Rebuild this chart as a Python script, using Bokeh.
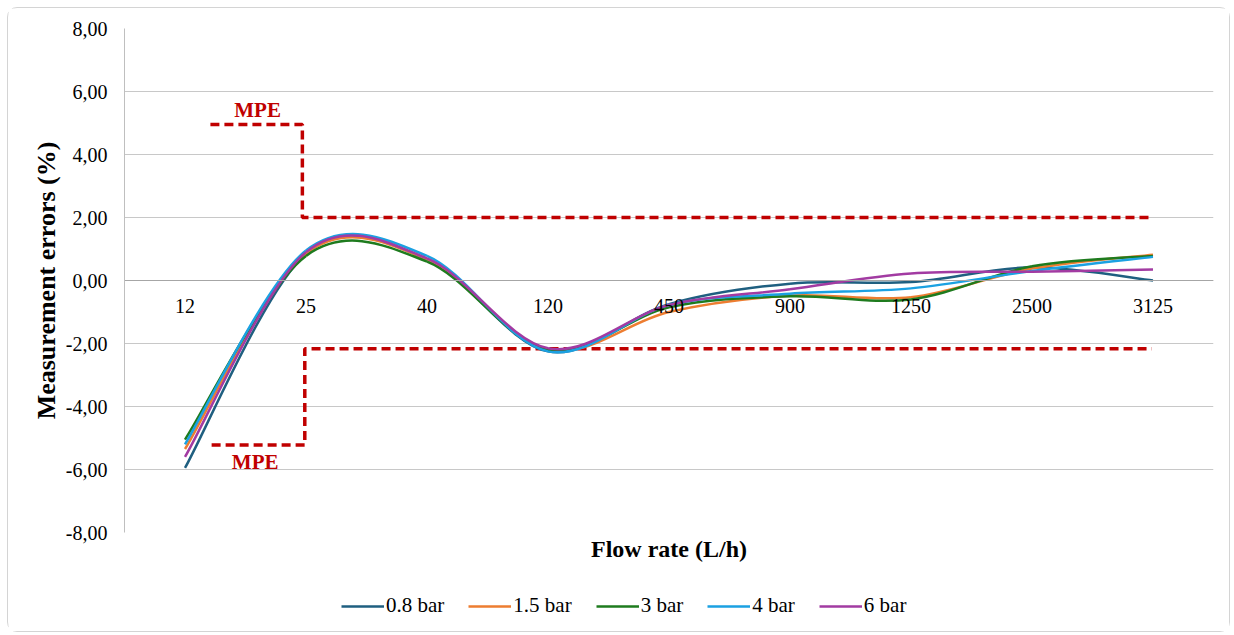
from bokeh.plotting import figure
from bokeh.layouts import column
from bokeh.models import (Range1d, FixedTicker, CustomJSTickFormatter, Legend,
                          LegendItem, Title, Label)
from bokeh.embed import file_html
from bokeh.resources import INLINE

# ---------------- data ----------------
flow_rates = ["12", "25", "40", "120", "450", "900", "1250", "2500", "3125"]

err_0_8bar = [-5.95, 0.85, 0.68, -2.25, -0.75, -0.10, -0.05, 0.42, 0.00]
err_1_5bar = [-5.35, 0.85, 0.68, -2.20, -1.00, -0.48, -0.53, 0.38, 0.82]
err_3bar = [-5.05, 0.78, 0.60, -2.20, -0.85, -0.50, -0.60, 0.45, 0.78]
err_4bar = [-5.20, 0.95, 0.78, -2.25, -0.78, -0.42, -0.25, 0.30, 0.75]
err_6bar = [-5.60, 0.90, 0.70, -2.15, -0.78, -0.28, 0.22, 0.28, 0.35]

series_names = ["0.8 bar", "1.5 bar", "3 bar", "4 bar", "6 bar"]
series_values = [err_0_8bar, err_1_5bar, err_3bar, err_4bar, err_6bar]
series_colors = ["#1f5f80", "#ed7d31", "#1e7b1e", "#1ba1e2", "#a23ba2"]

# MPE limits (%), and category-index positions where the limit lines start / step / end
mpe_upper = [4.95, 2.0]
mpe_lower = [-5.22, -2.17]
mpe_upper_x = [0.21, 0.97, 7.98]
mpe_lower_x = [0.22, 0.99, 7.99]

y_ticks = [-8, -6, -4, -2, 0, 2, 4, 6, 8]

FONT = "Liberation Serif"
TOTAL_W = 1221

# ---------------- main figure ----------------
p = figure(frame_width=1089, frame_height=504, x_range=Range1d(-0.5, 8.5), y_range=Range1d(-8, 8),
           output_backend="svg", toolbar_location=None,
           min_border_left=116, min_border_right=16, min_border_top=20, min_border_bottom=45)
p.outline_line_color = None
p.background_fill_color = "white"
p.border_fill_color = "white"

# y axis
p.yaxis.ticker = FixedTicker(ticks=y_ticks)
p.yaxis.formatter = CustomJSTickFormatter(code="return tick.toFixed(2).replace('.', ',');")
p.yaxis.axis_label = "Measurement errors (%)"
p.yaxis.axis_label_text_font = FONT
p.yaxis.axis_label_text_font_size = "26px"
p.yaxis.axis_label_text_font_style = "bold"
p.yaxis.axis_label_text_color = "#000000"
p.yaxis.major_label_text_font = FONT
p.yaxis.major_label_text_font_size = "20px"
p.yaxis.major_label_text_color = "#000000"
p.yaxis.axis_line_color = "#bfbfbf"
p.yaxis.major_tick_line_color = None
p.yaxis.minor_tick_line_color = None
p.yaxis.major_label_standoff = 11
p.yaxis.axis_label_standoff = 2

# x axis crossing at y = 0
p.xaxis.fixed_location = 0
p.xaxis.ticker = FixedTicker(ticks=list(range(len(flow_rates))))
p.xaxis.major_label_overrides = {i: s for i, s in enumerate(flow_rates)}
p.xaxis.major_label_text_font = FONT
p.xaxis.major_label_text_font_size = "20px"
p.xaxis.major_label_text_color = "#000000"
p.xaxis.axis_line_color = "#a6a6a6"
p.xaxis.major_tick_line_color = None
p.xaxis.minor_tick_line_color = None
p.xaxis.major_label_standoff = 12

p.xgrid.visible = False
p.ygrid.ticker = FixedTicker(ticks=y_ticks)
p.ygrid.grid_line_color = "#c8c8c8"
p.ygrid.grid_line_width = 1

# ---------------- MPE limit lines ----------------
p.line(x=[mpe_upper_x[0], mpe_upper_x[1], mpe_upper_x[1], mpe_upper_x[2]],
       y=[mpe_upper[0], mpe_upper[0], mpe_upper[1], mpe_upper[1]],
       line_color="#c00000", line_width=3.5, line_dash="9 5")
p.line(x=[mpe_lower_x[0], mpe_lower_x[1], mpe_lower_x[1], mpe_lower_x[2]],
       y=[mpe_lower[0], mpe_lower[0], mpe_lower[1], mpe_lower[1]],
       line_color="#c00000", line_width=3.5, line_dash="9 5")

p.add_layout(Label(x=0.60, y=mpe_upper[0], y_offset=3, text="MPE", text_align="center",
                   text_baseline="bottom", text_font=FONT, text_font_size="21px",
                   text_font_style="bold", text_color="#c00000"))
p.add_layout(Label(x=0.58, y=mpe_lower[0], y_offset=-5, text="MPE", text_align="center",
                   text_baseline="top", text_font=FONT, text_font_size="21px",
                   text_font_style="bold", text_color="#c00000"))

# ---------------- smoothed series (cubic Bezier through the data points) ----------------
def bezier_segments(vals):
    n = len(vals)
    xs = list(range(n))
    def tangent(i):
        a = max(i - 1, 0)
        b = min(i + 1, n - 1)
        return ((xs[b] - xs[a]) / 2.0, (vals[b] - vals[a]) / 2.0)
    seg = dict(x0=[], y0=[], x1=[], y1=[], cx0=[], cy0=[], cx1=[], cy1=[])
    for i in range(n - 1):
        t0 = tangent(i)
        t1 = tangent(i + 1)
        seg["x0"].append(xs[i]); seg["y0"].append(vals[i])
        seg["x1"].append(xs[i + 1]); seg["y1"].append(vals[i + 1])
        seg["cx0"].append(xs[i] + t0[0] / 3.0); seg["cy0"].append(vals[i] + t0[1] / 3.0)
        seg["cx1"].append(xs[i + 1] - t1[0] / 3.0); seg["cy1"].append(vals[i + 1] - t1[1] / 3.0)
    return seg

for name, vals, col in zip(series_names, series_values, series_colors):
    s = bezier_segments(vals)
    p.bezier(x0=s["x0"], y0=s["y0"], x1=s["x1"], y1=s["y1"],
             cx0=s["cx0"], cy0=s["cy0"], cx1=s["cx1"], cy1=s["cy1"],
             line_color=col, line_width=2.5)

p.add_layout(Title(text="Flow rate (L/h)", align="center", text_font=FONT,
                   text_font_size="24px", text_font_style="bold", text_color="#000000",
                   standoff=3), "below")

# ---------------- legend strip (separate figure under the chart) ----------------
# The strip's view window lies away from the data, so only its legend is visible.
lg = figure(width=TOTAL_W, height=54, x_range=Range1d(100, 101), y_range=Range1d(100, 101),
            output_backend="svg", toolbar_location=None, min_border=0,
            x_axis_location=None, y_axis_location=None)
lg.grid.visible = False
lg.outline_line_color = None
lg.border_fill_color = "white"

items = []
for name, vals, col in zip(series_names, series_values, series_colors):
    r = lg.line(x=list(range(len(vals))), y=vals, line_color=col, line_width=2.5)
    items.append(LegendItem(label=name, renderers=[r]))

legend = Legend(items=items, orientation="horizontal", location=(217, 13),
                border_line_color=None, background_fill_alpha=0,
                label_text_font=FONT, label_text_font_size="21px",
                label_text_color="#000000", glyph_width=43, label_standoff=2,
                spacing=24, margin=0, padding=6)
lg.add_layout(legend)

layout = column(p, lg, spacing=0)
layout.styles = {"border": "1px solid #d4d4d4", "border-radius": "10px", "margin": "7px",
                 "background-color": "white"}

open("out.html", "w").write(file_html(layout, INLINE))
